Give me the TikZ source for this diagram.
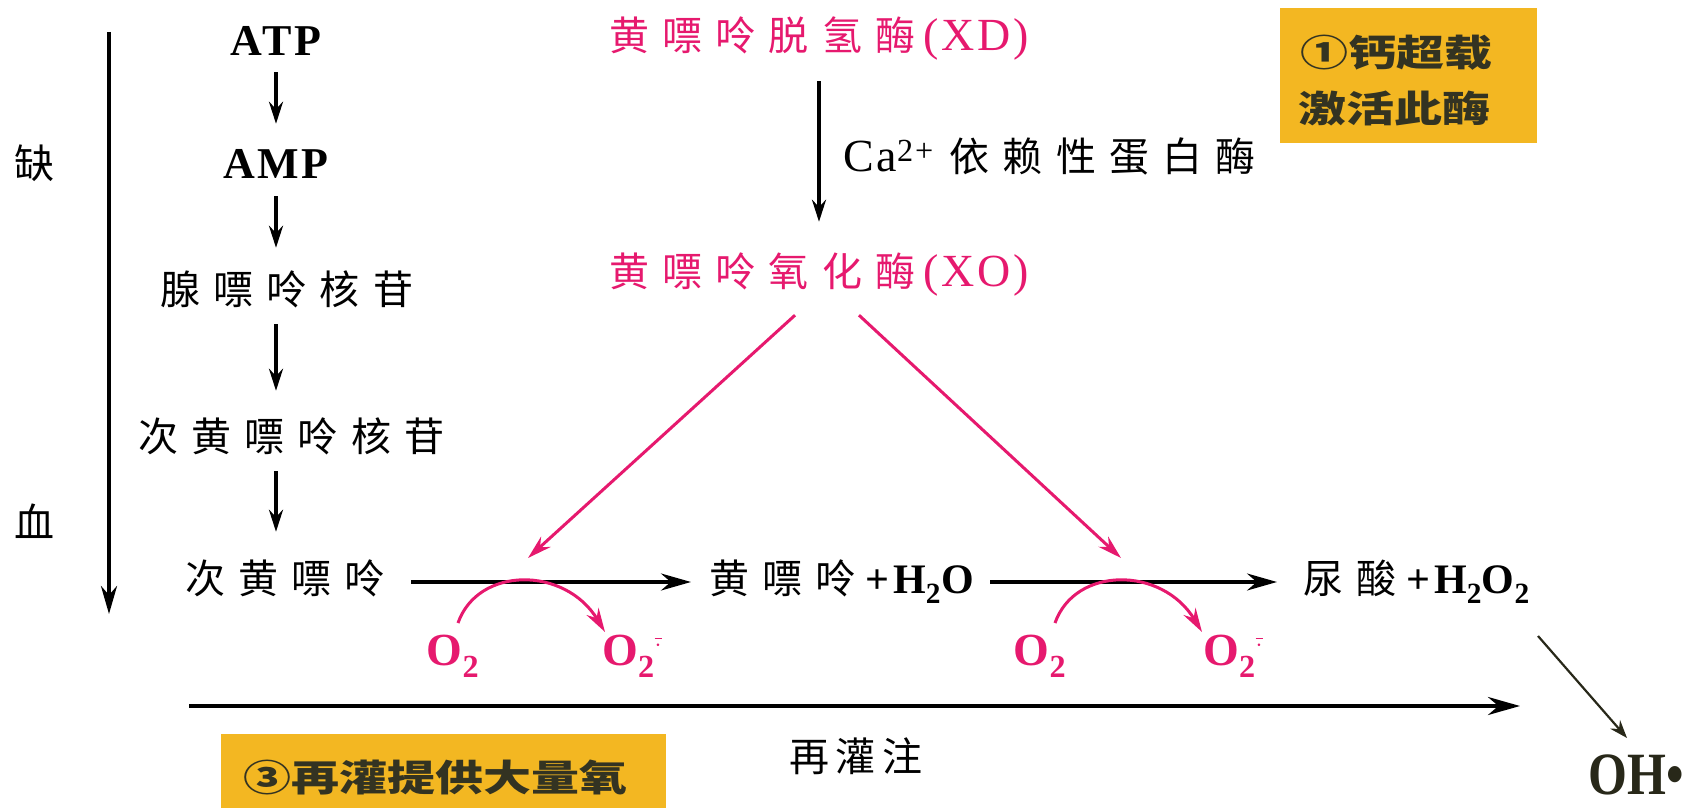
\documentclass[tikz,border=0pt]{standalone}
\usepackage{fontspec}
\usetikzlibrary{arrows.meta,calc}
\setmainfont{Liberation Serif}
\newfontfamily\cjk[LetterSpace=33]{Noto Sans CJK SC}
\newfontfamily\cjkc[LetterSpace=16]{Noto Sans CJK SC}
\newfontfamily\cjkn{Noto Sans CJK SC}
\newfontfamily\lsp[LetterSpace=6]{Liberation Serif}
\newfontfamily\lspb[LetterSpace=9]{Liberation Serif}
\newcommand\lt[1]{{\lsp\fontsize{46}{48}\selectfont #1}}
\newcommand\lb[1]{{\lspb\fontsize{42}{44}\selectfont\bfseries #1}}
\newcommand\supo{O\textsubscript{2}\raisebox{14pt}{\fontsize{34}{34}\selectfont$\overline{\cdot}$}}
\definecolor{mag}{RGB}{230,25,110}
\definecolor{ybox}{RGB}{243,183,34}
\definecolor{ytext}{RGB}{51,51,34}
\definecolor{dk}{RGB}{40,40,25}
\tikzset{
  lbl/.style={inner sep=0pt, text height=30pt, text depth=8pt, font=\fontsize{40}{42}\selectfont},
  lat/.style={lbl, font=\lsp\fontsize{44}{46}\selectfont\bfseries},
  pk/.style={lbl, text=mag},
  ox/.style={pk, font=\fontsize{46}{48}\selectfont\bfseries},
  arr/.style={-{Stealth[length=22pt,width=14pt]}, line width=3.4pt},
  harr/.style={-{Stealth[length=30pt,width=17pt]}, line width=3.2pt},
  parr/.style={-{Stealth[length=24pt,width=14pt]}, line width=3pt, draw=mag},
  ytx/.style={inner sep=0pt, text=ytext, font=\fontsize{40}{44}\selectfont\cjkn\bfseries, anchor=west},
}
\begin{document}
\begin{tikzpicture}[x=1pt,y=-1pt]
\useasboundingbox (0,0) rectangle (1690,808);
% yellow boxes
\fill[ybox] (1280,8) rectangle (1537,143);
\node[ytx] (y1a) at (1300,53) {\scalebox{1.2}[0.92]{①钙超载}};
\node[ytx] (y1b) at (1298,108) {\scalebox{1.2}[0.92]{激活此酶}};
\fill[ybox] (221,734) rectangle (666,808);
\node[ytx] (y3) at (243,777) {\scalebox{1.2}[0.92]{③再灌提供大量氧}};
% left column
\node[lbl, font=\fontsize{40}{42}\selectfont\cjkn] (que) at (34,167) {缺};
\node[lbl, font=\fontsize{40}{42}\selectfont\cjkn] (xue) at (34,526) {血};
\coordinate (ls) at (109,32);
\coordinate (le) at (109,614);
\draw[-{Stealth[length=28pt,width=16pt]}, line width=3.8pt] (ls) -- (le);
\node[lat] (atp) at (276,45) {ATP};
\node[lat] (amp) at (276,167) {AMP};
\node[lbl, anchor=west] (ado) at (160,293) {\cjk 腺嘌呤核苷};
\node[lbl, anchor=west] (hxr) at (138,440) {\cjk 次黄嘌呤核苷};
\node[lbl, anchor=west] (hx) at (185,582) {\cjk 次黄嘌呤};
\coordinate (cx) at (276,0);
\draw[arr, shorten <=8pt, shorten >=24pt] (atp.south) -- (amp.north);
\draw[arr, shorten <=10pt, shorten >=26pt] (amp.south) -- (ado.north -| cx);
\draw[arr, shorten <=12pt, shorten >=30pt] (ado.south -| cx) -- (hxr.north -| cx);
\draw[arr, shorten <=12pt, shorten >=31pt] (hxr.south -| cx) -- (hx.north -| cx);
% enzymes
\node[pk, anchor=west] (xd) at (609,40) {{\cjk 黄嘌呤脱氢酶}\hspace{8pt}\lt{(XD)}};
\node[pk, anchor=west] (xo) at (609,275) {{\cjk 黄嘌呤氧化酶}\hspace{8pt}\lt{(XO)}};
\node[lbl, anchor=west] (ca) at (843,160) {\lt{Ca\textsuperscript{2+}}\hspace{16pt}{\cjk 依赖性蛋白酶}};
\coordinate (x1) at (819,0);
\draw[arr, shorten <=22pt, shorten >=34pt] (xd.south -| x1) -- (xo.north -| x1);
% main row
\node[lbl, anchor=west] (xan) at (709,582) {{\cjk 黄嘌呤}\hspace{10pt}\lb{+H\textsubscript{2}O}};
\node[lbl, anchor=west] (uric) at (1303,582) {{\cjk 尿酸}\hspace{10pt}\lb{+H\textsubscript{2}O\textsubscript{2}}};
\draw[harr, shorten <=26pt, shorten >=18pt] (hx.east) -- (xan.west);
\draw[harr, shorten <=16pt, shorten >=26pt] (xan.east) -- (uric.west);
% XO arrows
\coordinate (t1) at (528,558);
\coordinate (t2) at (1121,558);
\draw[parr] ($(xo.south -| x1)+(-24,21)$) -- (t1);
\draw[parr] ($(xo.south -| x1)+(40,21)$) -- (t2);
% O2 labels
\node[ox] (o2a) at (453,654) {O\textsubscript{2}};
\node[ox] (o2b) at (632,654) {\supo};
\node[ox] (o2c) at (1040,654) {O\textsubscript{2}};
\node[ox] (o2d) at (1233,654) {\supo};
\coordinate (a1s) at (458,623);
\coordinate (a1e) at (605,632);
\coordinate (a2s) at (1055,623);
\coordinate (a2e) at (1202,632);
\draw[parr] (a1s) .. controls (478,566) and (565,566) .. (a1e);
\draw[parr] (a2s) .. controls (1075,566) and (1162,566) .. (a2e);
% reperfusion
\coordinate (rs) at (189,706);
\coordinate (re) at (1520,706);
\draw[-{Stealth[length=32pt,width=18pt]}, line width=3.8pt] (rs) -- (re);
\node[lbl] (rep) at (856,760) {\cjkc 再灌注};
% OH
\node[inner sep=0pt, text=dk, font=\fontsize{50}{52}\selectfont\bfseries, anchor=base west] (oh) at (1588,794) {\scalebox{1}[1.2]{OH\textbullet}};
\coordinate (ohs) at (1538,636);
\coordinate (ohe) at (1627,738);
\draw[-{Stealth[length=18pt,width=13pt]}, line width=2.2pt, draw=dk] (ohs) -- (ohe);
\end{tikzpicture}
\end{document}
